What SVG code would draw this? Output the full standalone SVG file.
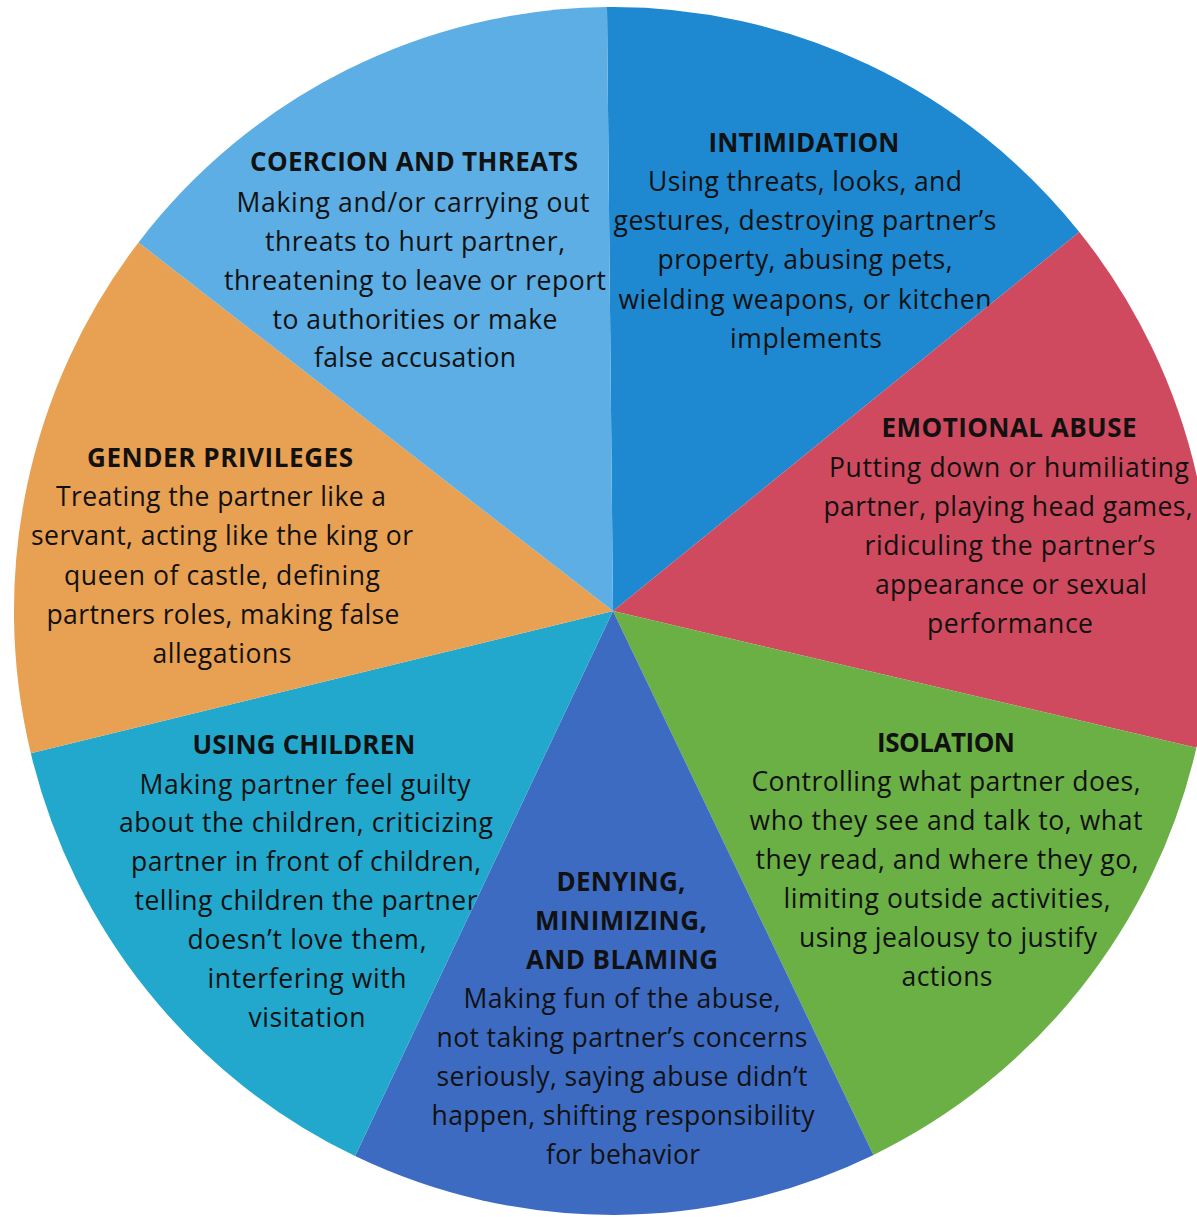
<svg xmlns="http://www.w3.org/2000/svg" width="1197" height="1217" viewBox="0 0 1197 1217">
<style>
text{font-family:"Open Sans","Noto Sans","Liberation Sans",sans-serif;fill:#111111;text-anchor:middle;font-size:26.5px}
.h{font-weight:700;font-size:26px}
</style>
<rect x="0" y="0" width="1197" height="1217" fill="#ffffff"/>
<g id="intimidation">
<path d="M613 611 L607 7 A599 604 0 0 1 1079.3 231.9 Z" fill="#1e88d0"/>
<text class="h" x="804" y="152" textLength="191">INTIMIDATION</text>
<text x="805" y="191" textLength="314">Using threats, looks, and</text>
<text x="805" y="230" textLength="383">gestures, destroying partner’s</text>
<text x="805" y="269" textLength="295">property, abusing pets,</text>
<text x="805" y="309" textLength="373">wielding weapons, or kitchen</text>
<text x="806" y="348" textLength="152">implements</text>
</g>
<g id="emotional-abuse">
<path d="M613 611 L1079.3 231.9 A599 604 0 0 1 1196.4 747.8 Z" fill="#cf4a5e"/>
<text class="h" x="1009" y="437" textLength="255">EMOTIONAL ABUSE</text>
<text x="1009" y="477" textLength="360">Putting down or humiliating</text>
<text x="1008" y="516" textLength="369">partner, playing head games,</text>
<text x="1010" y="555" textLength="291">ridiculing the partner’s</text>
<text x="1011" y="594" textLength="272">appearance or sexual</text>
<text x="1010" y="633" textLength="166">performance</text>
</g>
<g id="isolation">
<path d="M613 611 L1196.4 747.8 A599 604 0 0 1 873.5 1154.9 Z" fill="#6bb045"/>
<text class="h" x="946" y="752" textLength="138">ISOLATION</text>
<text x="946" y="791" textLength="389">Controlling what partner does,</text>
<text x="946" y="830" textLength="393">who they see and talk to, what</text>
<text x="947" y="869" textLength="383">they read, and where they go,</text>
<text x="947" y="908" textLength="327">limiting outside activities,</text>
<text x="948" y="947" textLength="298">using jealousy to justify</text>
<text x="947" y="986" textLength="91">actions</text>
</g>
<g id="denying-minimizing-blaming">
<path d="M613 611 L873.5 1154.9 A599 604 0 0 1 355.1 1156.1 Z" fill="#3d6bc2"/>
<text class="h" x="621" y="891" textLength="129">DENYING,</text>
<text class="h" x="621" y="930" textLength="172">MINIMIZING,</text>
<text class="h" x="622" y="969" textLength="192">AND BLAMING</text>
<text x="622" y="1008" textLength="317">Making fun of the abuse,</text>
<text x="622" y="1047" textLength="371">not taking partner’s concerns</text>
<text x="622" y="1086" textLength="371">seriously, saying abuse didn’t</text>
<text x="623" y="1125" textLength="383">happen, shifting responsibility</text>
<text x="623" y="1164" textLength="154">for behavior</text>
</g>
<g id="using-children">
<path d="M613 611 L355.1 1156.1 A599 604 0 0 1 30.8 753.3 Z" fill="#22a8cc"/>
<text class="h" x="304" y="754" textLength="223">USING CHILDREN</text>
<text x="305" y="794" textLength="331">Making partner feel guilty</text>
<text x="306" y="832" textLength="374">about the children, criticizing</text>
<text x="306" y="871" textLength="350">partner in front of children,</text>
<text x="306" y="910" textLength="343">telling children the partner</text>
<text x="307" y="949" textLength="239">doesn’t love them,</text>
<text x="307" y="988" textLength="199">interfering with</text>
<text x="307" y="1027" textLength="117">visitation</text>
</g>
<g id="gender-privileges">
<path d="M613 611 L30.8 753.3 A599 604 0 0 1 138.5 242.4 Z" fill="#e8a052"/>
<text class="h" x="220" y="467" textLength="266">GENDER PRIVILEGES</text>
<text x="221" y="506" textLength="330">Treating the partner like a</text>
<text x="222" y="545" textLength="382">servant, acting like the king or</text>
<text x="222" y="585" textLength="316">queen of castle, defining</text>
<text x="223" y="624" textLength="353">partners roles, making false</text>
<text x="222" y="663" textLength="139">allegations</text>
</g>
<g id="coercion-and-threats">
<path d="M613 611 L138.5 242.4 A599 604 0 0 1 607 7 Z" fill="#5caee4"/>
<text class="h" x="414" y="171" textLength="328">COERCION AND THREATS</text>
<text x="413" y="212" textLength="353">Making and/or carrying out</text>
<text x="415" y="251" textLength="300">threats to hurt partner,</text>
<text x="415" y="290" textLength="382">threatening to leave or report</text>
<text x="415" y="329" textLength="285">to authorities or make</text>
<text x="415" y="367" textLength="202">false accusation</text>
</g>
<g id="connectors"></g>
</svg>
